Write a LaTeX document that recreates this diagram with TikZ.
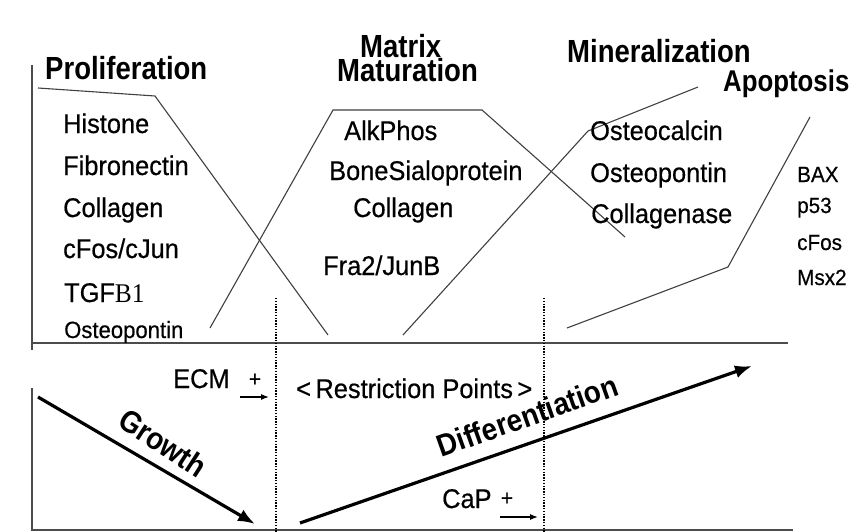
\documentclass[tikz,border=0pt]{standalone}
\usepackage{fontspec}
\setmainfont{Liberation Sans}
\newfontfamily\hdfont[FakeStretch=0.86]{Liberation Sans}
\newfontfamily\arfont[FakeStretch=0.9]{Liberation Sans}
\newfontfamily\itemfont[FakeBold=0.5,FakeStretch=0.94]{Liberation Sans}
\newfontfamily\serifpart[FakeStretch=0.94]{Liberation Serif}
\usetikzlibrary{arrows.meta}
\tikzset{
  hd/.style={font=\hdfont\fontsize{32}{32}\selectfont\bfseries, inner sep=0pt, anchor=base west},
  itm/.style={font=\itemfont\fontsize{27}{27}\selectfont, inner sep=0pt, anchor=base west},
  sitm/.style={font=\itemfont\fontsize{23.5}{23.5}\selectfont, inner sep=0pt, anchor=base west},
  ap/.style={font=\itemfont\fontsize{22}{22}\selectfont, inner sep=0pt, anchor=base west},
  thin/.style={draw=black!75, line width=1.1pt},
  frame/.style={draw=black!70, line width=1.3pt},
  dotline/.style={draw=black, line width=2pt, dash pattern=on 1.4pt off 1.4pt},
  bigarrow/.style={draw=black, line width=3.2pt, -{Latex[length=17pt,width=13pt]}},
  smallarrow/.style={draw=black, line width=1.2pt, -{Latex[length=8pt,width=6pt]}},
  arlabel/.style={font=\arfont\fontsize{31}{31}\selectfont\bfseries, inner sep=0pt, anchor=base},
}
\begin{document}
\begin{tikzpicture}[x=1pt,y=-1pt]
\useasboundingbox[fill=white] (0,0) rectangle (856,532);

% frame lines
\coordinate (ltop) at (32,65);
\coordinate (lmid) at (32,350);
\coordinate (lbot1) at (32,388);
\coordinate (lbot2) at (32,531);
\coordinate (hl) at (32,343);
\coordinate (hr) at (788,343);
\coordinate (bl) at (32,530);
\coordinate (br) at (793,530);
\draw[frame] (ltop) -- (lmid);
\draw[frame] (lbot1) -- (lbot2);
\draw[frame] (hl) -- (hr);
\draw[frame] (bl) -- (br);

% dotted restriction lines
\coordinate (r1t) at (276,298);
\coordinate (r1b) at (276,532);
\coordinate (r2t) at (544,298);
\coordinate (r2b) at (544,532);
\draw[dotline] (r1t) -- (r1b);
\draw[dotline] (r2t) -- (r2b);

% headers
\node[hd] (prol) at (45,80) {Proliferation};
\node[hd] (matrix) at (360,58) {Matrix};
\node[hd] (matur) at (337,82) {Maturation};
\node[hd] (miner) at (567,63) {Mineralization};
\node[hd, font=\hdfont\fontsize{30}{30}\selectfont\bfseries] (apop) at (723,92) {Apoptosis};

% profile curves
\draw[thin] (38,88) -- (155,96) -- (328,335);
\draw[thin] (210,328) -- (333,110) -- (482,110) -- (625,237);
\draw[thin] (698,87) -- (588,131) -- (403,335);
\draw[thin] (810,117) -- (728,267) -- (567,328);

% proliferation genes
\node[itm] (p1) at (63,133) {Histone};
\node[itm] (p2) at (63,175) {Fibronectin};
\node[itm] (p3) at (63,217) {Collagen};
\node[itm] (p4) at (63,258) {cFos/cJun};
\node[itm] (p5) at (64,302) {TGF{\serifpart\fontsize{27}{27}\selectfont B1}};
\node[sitm] (p6) at (64,338) {Osteopontin};

% matrix maturation genes
\node[itm] (m1) at (344,140) {AlkPhos};
\node[itm] (m2) at (329,180) {BoneSialoprotein};
\node[itm] (m3) at (353,217) {Collagen};
\node[itm] (m4) at (323,275) {Fra2/JunB};

% mineralization genes
\node[itm] (n1) at (590,140) {Osteocalcin};
\node[itm] (n2) at (590,182) {Osteopontin};
\node[itm] (n3) at (591,223) {Collagenase};

% apoptosis genes
\node[ap] (a1) at (797,182) {BAX};
\node[ap] (a2) at (797,213) {p53};
\node[ap] (a3) at (797,250) {cFos};
\node[ap] (a4) at (797,285) {Msx2};

% lower section
\node[itm] (ecm) at (173,388) {ECM};
\node[font=\itemfont\fontsize{22}{22}\selectfont, inner sep=0pt] (ecmplus) at (255,380) {+};
\coordinate (ea1) at (240,397);
\coordinate (ea2) at (269,397);
\draw[smallarrow] (ea1) -- (ea2);

\node[itm] (restr) at (296,398) {<\,Restriction Points\,>};

\node[itm] (cap) at (442,508) {CaP};
\node[font=\itemfont\fontsize{22}{22}\selectfont, inner sep=0pt] (capplus) at (507,499) {+};
\coordinate (ca1) at (500,517);
\coordinate (ca2) at (538,517);
\draw[smallarrow] (ca1) -- (ca2);

% growth arrow
\coordinate (g1) at (38,397);
\coordinate (g2) at (255,524);
\draw[bigarrow] (g1) -- (g2);
\node[arlabel, rotate=-33] (growth) at (157,452) {Growth};

% differentiation arrow
\coordinate (d1) at (300,523);
\coordinate (d2) at (752,366);
\draw[bigarrow] (d1) -- (d2);
\node[arlabel, rotate=19.5] (diff) at (531,426) {Differentiation};
\end{tikzpicture}
\end{document}
